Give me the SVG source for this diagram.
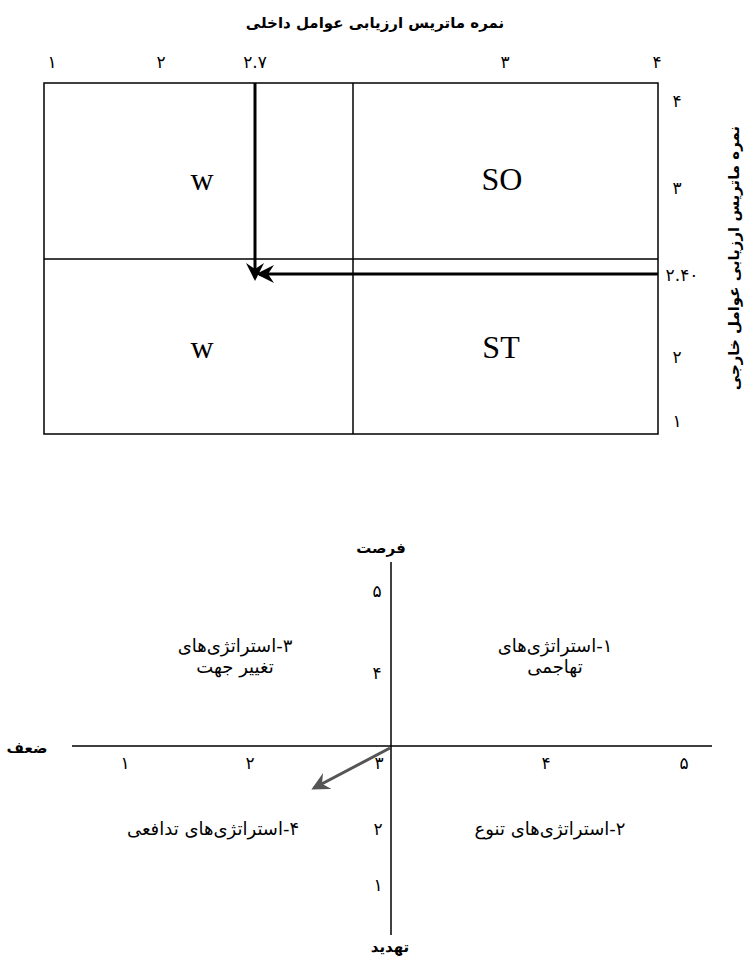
<svg xmlns="http://www.w3.org/2000/svg" width="750" height="958" viewBox="0 0 750 958">
<style>
.fa{font-family:"DejaVu Sans","Noto Sans",sans-serif;font-size:18px;fill:#000;text-anchor:middle}
.num{font-family:"DejaVu Sans","Noto Sans",sans-serif;font-size:17px;fill:#000;text-anchor:middle}
.ttl{font-family:"DejaVu Sans","Noto Sans",sans-serif;font-size:15px;font-weight:bold;fill:#000;text-anchor:middle}
.lat{font-family:"Liberation Serif",serif;font-size:32px;fill:#000;text-anchor:middle}
.ln{stroke:#000;stroke-width:1.5;fill:none}
.thick{stroke:#000;stroke-width:3;fill:none}
</style>
<defs>
<marker id="ah" viewBox="0 0 12 12" refX="10" refY="6" markerWidth="6" markerHeight="6" orient="auto" markerUnits="strokeWidth">
<path d="M0,0 L12,6 L0,12 L4,6 Z" fill="#000"/>
</marker>
<marker id="ahg" viewBox="0 0 12 12" refX="10" refY="6" markerWidth="6" markerHeight="6" orient="auto" markerUnits="strokeWidth">
<path d="M0,0 L12,6 L0,12 L4,6 Z" fill="#555"/>
</marker>
</defs>

<g id="matrix">
<rect x="44" y="83" width="614" height="351" class="ln"/>
<line x1="353" y1="83" x2="353" y2="434" class="ln"/>
<line x1="44" y1="259" x2="658" y2="259" class="ln"/>
</g>

<g id="labels-top">
<text class="ttl" x="375" y="28" direction="rtl">نمره ماتریس ارزیابی عوامل داخلی</text>
<text class="num" x="52" y="68">۱</text>
<text class="num" x="161" y="68">۲</text>
<text class="num" x="255" y="68">۲.۷</text>
<text class="num" x="505" y="68">۳</text>
<text class="num" x="657" y="68">۴</text>
<text class="num" x="677" y="107">۴</text>
<text class="num" x="677" y="194">۳</text>
<text class="num" x="682" y="281">۲.۴۰</text>
<text class="num" x="677" y="363">۲</text>
<text class="num" x="677" y="427">۱</text>
<text class="ttl" transform="translate(739,258) rotate(-90)" direction="rtl">نمره ماتریس ارزیابی عوامل خارجی</text>
</g>

<g id="quadrants">
<text class="lat" x="202" y="190">w</text>
<text class="lat" x="502" y="190">SO</text>
<text class="lat" x="202" y="358">w</text>
<text class="lat" x="501" y="358">ST</text>
</g>

<g id="connectors">
<line x1="255" y1="83" x2="255" y2="278" class="thick" marker-end="url(#ah)"/>
<line x1="658" y1="274" x2="259" y2="274" class="thick" marker-end="url(#ah)"/>
<line x1="390" y1="748" x2="314" y2="788" stroke="#555" stroke-width="3" marker-end="url(#ahg)"/>
</g>

<g id="axes">
<line x1="391" y1="562" x2="391" y2="935" class="ln"/>
<line x1="72" y1="746" x2="712" y2="746" class="ln"/>
</g>

<g id="axis-labels">
<text class="ttl" x="381" y="553" direction="rtl">فرصت</text>
<text class="ttl" x="390" y="952" direction="rtl">تهدید</text>
<text class="ttl" x="27" y="753" direction="rtl">ضعف</text>
<text class="num" x="377" y="597">۵</text>
<text class="num" x="377" y="679">۴</text>
<text class="num" x="379" y="769">۳</text>
<text class="num" x="378" y="835">۲</text>
<text class="num" x="378" y="891">۱</text>
<text class="num" x="125" y="769">۱</text>
<text class="num" x="250" y="769">۲</text>
<text class="num" x="546" y="769">۴</text>
<text class="num" x="684" y="769">۵</text>
</g>

<g id="strategies">
<text class="fa" x="235" y="652" direction="rtl">۳-استراتژی‌های</text>
<text class="fa" x="235" y="673" direction="rtl">تغییر جهت</text>
<text class="fa" x="555" y="652" direction="rtl">۱-استراتژی‌های</text>
<text class="fa" x="555" y="673" direction="rtl">تهاجمی</text>
<text class="fa" x="213" y="835" direction="rtl">۴-استراتژی‌های تدافعی</text>
<text class="fa" x="550" y="835" direction="rtl">۲-استراتژی‌های تنوع</text>
</g>
</svg>
